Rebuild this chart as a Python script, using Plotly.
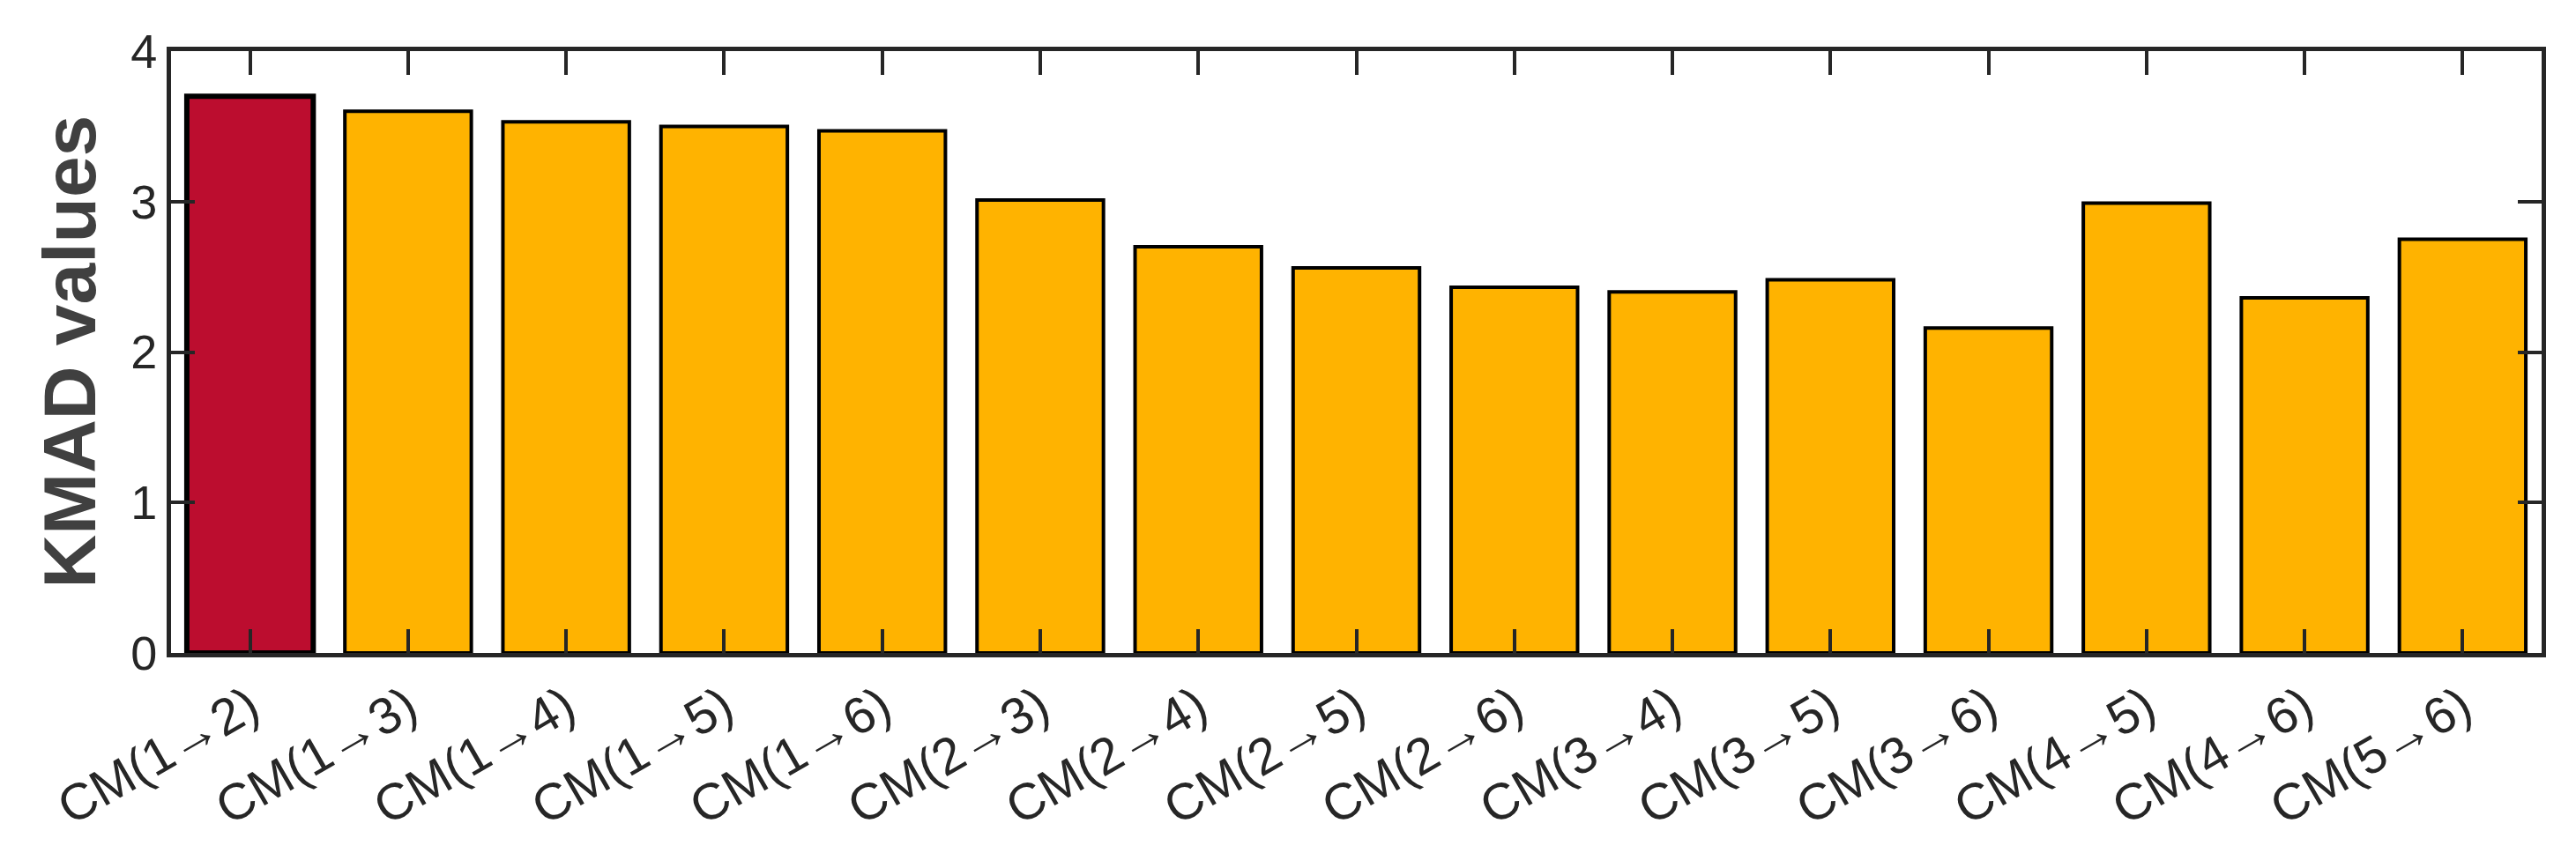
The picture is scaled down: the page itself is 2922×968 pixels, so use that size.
import plotly.graph_objects as go

categories = ["CM(1→2)", "CM(1→3)", "CM(1→4)", "CM(1→5)", "CM(1→6)",
              "CM(2→3)", "CM(2→4)", "CM(2→5)", "CM(2→6)", "CM(3→4)",
              "CM(3→5)", "CM(3→6)", "CM(4→5)", "CM(4→6)", "CM(5→6)"]
kmad_values = [3.70, 3.60, 3.53, 3.50, 3.47,
               3.01, 2.70, 2.56, 2.43, 2.40,
               2.48, 2.16, 2.99, 2.36, 2.75]
highlight_index = 0

W, H = 2922, 968
ml, mr, mt, mb = 186, 47, 50, 235

colors = ["#BC0D2F" if i == highlight_index else "#FFB300" for i in range(len(categories))]
line_widths = [6 if i == highlight_index else 4 for i in range(len(categories))]

fig = go.Figure()
fig.add_trace(go.Bar(
    x=categories, y=kmad_values, width=0.8,
    marker=dict(color=colors, line=dict(color="#000000", width=line_widths)),
    showlegend=False,
))

axis_common = dict(
    showline=True, linecolor="#262626", linewidth=5, mirror="ticks",
    ticks="inside", ticklen=27, tickwidth=4, tickcolor="#262626",
    showgrid=False, zeroline=False,
)

fig.update_layout(
    width=W, height=H,
    margin=dict(l=ml, r=mr, t=mt, b=mb, autoexpand=False),
    paper_bgcolor="white", plot_bgcolor="white",
    xaxis=dict(range=[-0.5, len(categories) - 0.5], tickangle=-30,
               tickfont=dict(family="Liberation Sans, Arial", size=58, color="#262626"),
               **axis_common),
    yaxis=dict(range=[0, 4], dtick=1, tickvals=[0, 1, 2, 3, 4],
               tickfont=dict(family="Liberation Sans, Arial", size=54, color="#262626"),
               **axis_common),
    annotations=[dict(
        text="<b>KMAD values</b>", textangle=-90,
        xref="paper", yref="paper",
        x=(70 - ml) / (W - ml - mr), y=0.5,
        xanchor="center", yanchor="middle", showarrow=False,
        font=dict(family="Liberation Sans, Arial", size=84, color="#404040"),
    )],
)

fig.write_html("out.html")
